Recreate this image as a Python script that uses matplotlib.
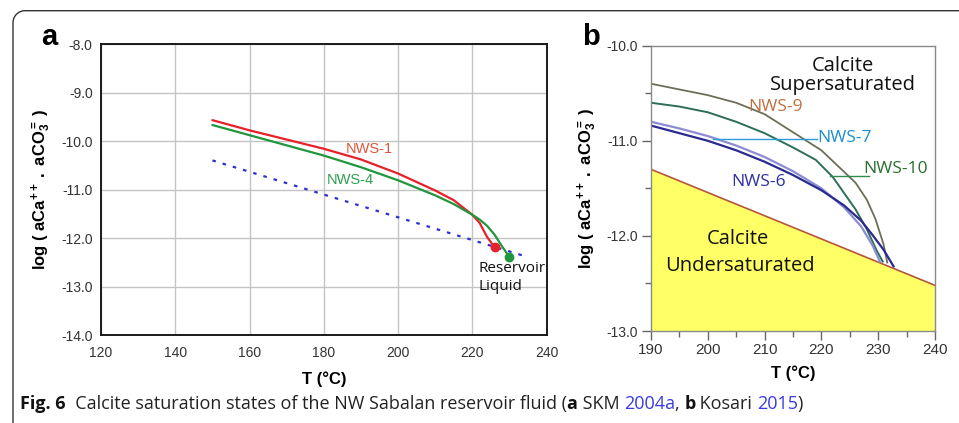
import numpy as np
import matplotlib
matplotlib.use("Agg")
import matplotlib.pyplot as plt
from matplotlib.lines import Line2D

# ---------------- data ----------------
# Panel a (SKM 2004a)
a_red_T = [150, 160, 170, 180, 190, 200, 210, 215, 220, 222, 224, 226]
a_red_y = [-9.57, -9.78, -9.97, -10.16, -10.38, -10.67, -11.02, -11.22, -11.52, -11.69, -11.98, -12.19]
a_green_T = [150, 160, 170, 180, 190, 200, 210, 215, 220, 222, 224, 226, 228, 230]
a_green_y = [-9.67, -9.88, -10.09, -10.30, -10.54, -10.81, -11.12, -11.30, -11.52, -11.62, -11.75, -11.93, -12.17, -12.39]
a_blue_T = [150, 234]
a_blue_y = [-10.40, -12.37]
a_xticks = [120, 140, 160, 180, 200, 220, 240]
a_yticks = [-14, -13, -12, -11, -10, -9, -8]

# Panel b (Kosari 2015)
b_bound_T = [190, 240]
b_bound_y = [-11.30, -12.52]
b_nws9_T = [190, 195, 200, 205, 210, 215, 220, 223, 226, 228, 229.5, 230.9, 231.6]
b_nws9_y = [-10.40, -10.46, -10.52, -10.60, -10.72, -10.91, -11.10, -11.27, -11.44, -11.62, -11.82, -12.08, -12.28]
b_nws10_T = [190, 195, 200, 205, 210, 215, 219, 222, 224, 226, 228, 229.7, 230.8]
b_nws10_y = [-10.60, -10.64, -10.70, -10.80, -10.92, -11.07, -11.20, -11.38, -11.55, -11.72, -11.93, -12.15, -12.27]
b_nws7_T = [190, 195, 200, 205, 210, 215, 220, 224, 227, 229, 230.3]
b_nws7_y = [-10.80, -10.87, -10.95, -11.05, -11.17, -11.32, -11.50, -11.70, -11.90, -12.10, -12.27]
b_nws6_T = [190, 195, 200, 205, 210, 215, 220, 224, 227, 229, 231, 232.7]
b_nws6_y = [-10.84, -10.92, -11.00, -11.10, -11.22, -11.36, -11.52, -11.68, -11.84, -11.99, -12.15, -12.32]
b_xticks = [190, 200, 210, 220, 230, 240]
b_yticks = [-13, -12, -11, -10]

# ---------------- style ----------------
plt.rcParams['font.family'] = ['Liberation Sans', 'DejaVu Sans']
plt.rcParams['mathtext.fontset'] = 'custom'
plt.rcParams['mathtext.rm'] = 'Liberation Sans'
plt.rcParams['mathtext.bf'] = 'Liberation Sans:bold'
plt.rcParams['mathtext.it'] = 'Liberation Sans:italic'

W, H = 959, 423
fig = plt.figure(figsize=(W / 100, H / 100), dpi=100)

def fx(px):
    return px / W

def fy(py):
    return 1 - py / H

ylab = r'$\mathbf{log\ (\ aCa^{++}\ .\ aCO_3^{=}\ )}$'

# ---------------- panel a ----------------
axA = fig.add_axes([fx(101), fy(335), fx(546.5) - fx(101), fy(44) - fy(335)])
axA.set_xlim(120, 240)
axA.set_ylim(-14, -8)
axA.set_xticks(a_xticks)
axA.set_yticks(a_yticks)
axA.set_yticklabels([f"{v:.1f}" for v in a_yticks])
axA.grid(True, color='#c4c4c4', lw=1.0)
axA.set_axisbelow(True)
for s in axA.spines.values():
    s.set_color('#1a1a1a')
    s.set_linewidth(1.4)
axA.tick_params(length=0, labelsize=10, labelcolor='#333333')
axA.tick_params(axis='x', pad=8)
axA.tick_params(axis='y', pad=6)
axA.plot(a_blue_T, a_blue_y, color='#3030d0', lw=1.6, ls=(0, (1.6, 3.2)))
axA.plot(a_red_T, a_red_y, color='#e8202a', lw=1.6, solid_capstyle='round')
axA.plot(a_green_T, a_green_y, color='#22963c', lw=1.6, solid_capstyle='round')
axA.plot(a_red_T[-1], a_red_y[-1], 'o', color='#e8202a', ms=6)
axA.plot(a_green_T[-1], a_green_y[-1], 'o', color='#22963c', ms=6)
axA.text(186, -10.17, 'NWS-1', color='#e0553a', fontsize=10.5, va='center', ha='left')
axA.text(180.8, -10.80, 'NWS-4', color='#2e9e50', fontsize=10.5, va='center', ha='left')
axA.text(221.6, -12.47, 'Reservoir\nLiquid', color='#111111', fontsize=11,
         family='Open Sans', va='top', ha='left', linespacing=1.25)
axA.set_xlabel('T (°C)', fontsize=12, fontweight='bold', labelpad=8)
axA.set_ylabel(ylab, fontsize=12, labelpad=6)
fig.text(fx(49), fy(37), 'a', fontsize=21, fontweight='bold', ha='center', va='center')

# ---------------- panel b ----------------
axB = fig.add_axes([fx(651), fy(331), fx(935) - fx(651), fy(45.7) - fy(331)])
axB.set_xlim(190, 240)
axB.set_ylim(-13, -10)
axB.set_xticks(b_xticks)
axB.set_xticks([195, 205, 215, 225, 235], minor=True)
axB.set_yticks(b_yticks)
axB.set_yticks([-12.5, -11.5, -10.5], minor=True)
axB.set_yticklabels([f"{v:.1f}" for v in b_yticks])
for s in axB.spines.values():
    s.set_color('#8a8a8a')
    s.set_linewidth(1.0)
axB.tick_params(which='major', length=6.5, width=1.0, color='#666666', labelsize=10,
                labelcolor='#333333', direction='out')
axB.tick_params(which='minor', length=4, width=1.0, color='#666666', direction='out')
axB.tick_params(axis='x', which='major', labelsize=11, pad=2)
axB.tick_params(axis='y', pad=3)
axB.fill_between(b_bound_T, b_bound_y, -13, color='#ffff66', lw=0)
axB.plot(b_bound_T, b_bound_y, color='#b5553a', lw=1.2)
axB.plot(b_nws9_T, b_nws9_y, color='#6e6e58', lw=1.3)
axB.plot(b_nws10_T, b_nws10_y, color='#2d6e58', lw=1.4)
axB.plot(b_nws7_T, b_nws7_y, color='#8c8cd2', lw=1.6)
axB.plot(b_nws6_T, b_nws6_y, color='#2a2a90', lw=1.6)
# leader lines
axB.plot([201.0, 219.2], [-10.985, -10.985], color='#2a9ad8', lw=1.0)
axB.plot([221.5, 228.3], [-11.37, -11.37], color='#2e8a4e', lw=1.0)
lab_font = dict(family='Open Sans', fontsize=12.5)
axB.text(212.0, -10.64, 'NWS-9', color='#c0703e', ha='center', va='center', **lab_font)
axB.text(219.2, -10.97, 'NWS-7', color='#1a90d0', ha='left', va='center', **lab_font)
axB.text(227.4, -11.30, 'NWS-10', color='#2a6e30', ha='left', va='center', **lab_font)
axB.text(204.2, -11.43, 'NWS-6', color='#2e2ea8', ha='left', va='center', **lab_font)
big_font = dict(family='Open Sans', fontsize=14.5, color='#111111', ha='center', va='center')
axB.text(223.75, -10.21, 'Calcite', **big_font)
axB.text(223.75, -10.41, 'Supersaturated', **big_font)
axB.text(205.3, -12.03, 'Calcite', **big_font)
axB.text(205.6, -12.32, 'Undersaturated', **big_font)
axB.set_xlabel('T (°C)', fontsize=12, fontweight='bold', labelpad=6)
axB.set_ylabel(ylab, fontsize=12, labelpad=5)
fig.text(fx(591), fy(37), 'b', fontsize=21, fontweight='bold', ha='center', va='center')

# ---------------- frame ----------------
r = 12
th = np.linspace(np.pi, np.pi / 2, 20)
cx, cy = 13 + r, 10.7 + r
xs = [13] + list(cx + r * np.cos(th)) + [W + 5]
ys = [H + 5] + list(cy - r * np.sin(th)) + [10.7]
fig.add_artist(Line2D([fx(v) for v in xs], [fy(v) for v in ys], color='#333333', lw=1.0))

# ---------------- caption ----------------
cap_parts = [
    ('Fig. 6', 'bold', '#111111'),
    ('  Calcite saturation states of the NW Sabalan reservoir fluid (', 'normal', '#222222'),
    ('a', 'bold', '#111111'),
    (' SKM ', 'normal', '#222222'),
    ('2004a', 'normal', '#3a3ae0'),
    (', ', 'normal', '#222222'),
    ('b', 'bold', '#111111'),
    (' Kosari ', 'normal', '#222222'),
    ('2015', 'normal', '#3a3ae0'),
    (')', 'normal', '#222222'),
]
fig.canvas.draw()
renderer = fig.canvas.get_renderer()
x0 = 20
for txt, wt, col in cap_parts:
    t = fig.text(fx(x0), fy(404), txt, fontsize=13, family='Open Sans', fontweight=wt,
                 color=col, ha='left', va='center')
    bb = t.get_window_extent(renderer=renderer)
    x0 += bb.width

fig.savefig('out.png', dpi=100)
